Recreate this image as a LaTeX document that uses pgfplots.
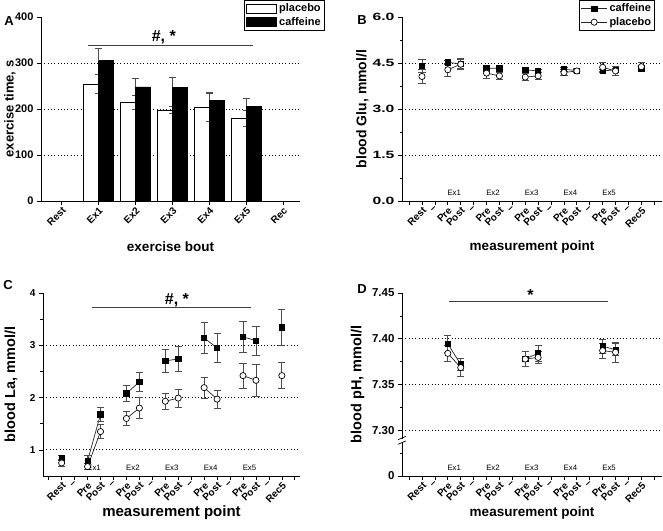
\documentclass[border=0pt]{standalone}
\usepackage{fontspec}
\setmainfont{Liberation Sans}
\newfontfamily\widesans[FakeStretch=1.5]{Liberation Sans}
\usepackage{pgfplots}
\usepackage{pgfplotstable}
\pgfplotsset{compat=1.18}

% exercise time per bout
\pgfplotstableread{
x  py  pe  cy  ce
1  254 21  305 27
2  215 15  248 19
3  198  8  247 21
4  203 31  219 17
5  180 18  206 18
}\timedata

% blood glucose
\pgfplotstableread{
x   cy    ce    py    pe
0   4.41  0.21  4.06  0.24
1   nan   0     nan   0
2   4.52  0.08  4.28  0.22
3   4.47  0.15  4.46  0.18
4   nan   0     nan   0
5   4.33  0.06  4.17  0.16
6   4.33  0.07  4.08  0.12
7   nan   0     nan   0
8   4.28  0.06  4.04  0.12
9   4.24  0.06  4.08  0.10
10  nan   0     nan   0
11  4.30  0.06  4.19  0.11
12  4.25  0.06  4.24  0.06
13  nan   0     nan   0
14  4.24  0.06  4.36  0.15
15  4.28  0.06  4.24  0.14
16  nan   0     nan   0
17  4.33  0.06  4.38  0.14
}\gludata

% blood lactate
\pgfplotstableread{
x   cy    ce    py    pe
0   0.84  0.05  0.75  0.07
1   nan   0     nan   0
2   0.79  0.10  0.68  0.06
3   1.68  0.13  1.35  0.13
4   nan   0     nan   0
5   2.08  0.16  1.60  0.14
6   2.30  0.19  1.80  0.20
7   nan   0     nan   0
8   2.70  0.22  1.93  0.15
9   2.74  0.24  1.99  0.17
10  nan   0     nan   0
11  3.14  0.30  2.19  0.20
12  2.95  0.27  1.97  0.17
13  nan   0     nan   0
14  3.16  0.30  2.42  0.24
15  3.09  0.28  2.33  0.30
16  nan   0     nan   0
17  3.34  0.35  2.42  0.25
}\ladata

% blood pH
\pgfplotstableread{
x   cy      ce      py      pe
2   7.3944  0.0093  7.3840  0.0090
3   7.3720  0.0070  7.3685  0.0095
4   nan     0       nan     0
8   7.3780  0.0080  7.3778  0.0082
9   7.3840  0.0086  7.3796  0.0066
10  nan     0       nan     0
14  7.3918  0.0075  7.3870  0.0080
15  7.3880  0.0064  7.3852  0.0110
}\phdata

\tikzset{
  exlab/.style={anchor=south, yshift=2pt, font=\fontsize{7.8}{9}\selectfont},
  sig/.style={line width=0.8pt, black!75},
  sigtxt/.style={font=\bfseries\fontsize{16}{18}\selectfont},
}

\pgfplotsset{
  panel/.style={
    scale only axis,
    axis x line*=bottom, axis y line*=left,
    axis line style={line width=0.8pt},
    tick align=outside,
    tick style={black, line width=0.7pt},
    major tick length=4pt, minor tick length=2.5pt,
    tick label style={font=\bfseries\fontsize{10.5}{12}\selectfont},
    x tick label style={rotate=45, anchor=north east, inner sep=1pt,
      font=\bfseries\fontsize{10}{12}\selectfont},
    /pgf/number format/assume math mode=true,
    clip=false,
    grid style={line width=0.8pt, dash pattern=on 1pt off 2.3pt, black},
    extra y tick style={grid=major},
    extra y tick labels={},
    error bars/error bar style={line width=0.8pt, black!70},
    error bars/error mark options={rotate=90, mark size=3.6pt, line width=0.8pt, black!70},
    every axis y label/.style={rotate=90, anchor=center,
      font=\bfseries\fontsize{14.5}{16}\selectfont},
    every axis x label/.style={anchor=center,
      font=\bfseries\fontsize{13.5}{16}\selectfont},
  },
  mp/.style={
    xmin=-1.55, xmax=18.6,
    xtick={-1,...,18},
    xticklabels={{},Rest,\textendash,Pre,Post,\textendash,Pre,Post,\textendash,Pre,Post,\textendash,Pre,Post,\textendash,Pre,Post,\textendash,Rec5,{}},
    xlabel={measurement point},
    minor y tick num=1,
    unbounded coords=jump,
  },
  caf/.style={black!85, line width=0.7pt, mark=square*, mark size=2.7pt,
    mark options={solid, black}, error bars/y dir=both, error bars/y explicit},
  pla/.style={black!85, line width=0.7pt, mark=*, mark size=3.1pt,
    mark options={solid, fill=white, draw=black}, error bars/y dir=both, error bars/y explicit},
}

\begin{document}
\begin{tikzpicture}
\useasboundingbox (0,0) rectangle (663pt,530pt);

% ---------- A ----------
\begin{axis}[panel,
  at={(41pt,329pt)}, anchor=south west, width=259pt, height=184pt,
  xmin=-0.56, xmax=6.46, ymin=0, ymax=400,
  xtick={0,...,6}, xticklabels={Rest,Ex1,Ex2,Ex3,Ex4,Ex5,Rec},
  ytick={0,100,200,300,400}, extra y ticks={100,200,300},
  y tick label style={font=\bfseries\fontsize{11}{12}\selectfont},
  xlabel={exercise bout}, ylabel={exercise time, s},
  xlabel style={at={(axis description cs:0.5,-0.25)}},
  ylabel style={at={(axis description cs:-0.12,0.5)}, font=\bfseries\fontsize{13}{15}\selectfont},
  legend style={at={(1.095,1.092)}, anchor=north east, draw=black, line width=0.8pt,
    font=\bfseries\fontsize{11}{13}\selectfont, inner sep=1.5pt, row sep=0pt,
    cells={anchor=west}},
  legend image code/.code={\draw[#1,/tikz/.cd,line width=0.8pt] (0pt,-4.5pt) rectangle (30pt,4.5pt);},
]
\addplot[ybar, bar width=15pt, bar shift=-7.5pt, fill=white, draw=black, line width=0.8pt,
  error bars/y dir=both, error bars/y explicit]
  table[x=x, y=py, y error=pe] {\timedata};
\addlegendentry{placebo}
\addplot[ybar, bar width=15pt, bar shift=7.5pt, fill=black, draw=black, line width=0.8pt,
  error bars/y dir=plus, error bars/y explicit]
  table[x=x, y=cy, y error=ce] {\timedata};
\addlegendentry{caffeine}
\draw[sig] (axis cs:0.72,339) -- (axis cs:5.18,339);
\node[sigtxt] at (axis cs:2.77,357) {\#, *};
\end{axis}

% ---------- B ----------
\begin{axis}[panel, mp,
  at={(402pt,329pt)}, anchor=south west, width=260pt, height=184pt,
  ymin=0, ymax=6,
  ytick={0,1.5,3,4.5,6}, yticklabels={0.0,1.5,3.0,4.5,6.0},
  y tick label style={font=\widesans\bfseries\fontsize{10.5}{12}\selectfont},
  extra y ticks={1.5,3,4.5},
  ylabel={blood Glu, mmol/l},
  xlabel style={at={(axis description cs:0.5,-0.25)}},
  ylabel style={at={(axis description cs:-0.152,0.5)}, font=\bfseries\fontsize{14}{16}\selectfont},
  legend style={at={(0.973,1.092)}, anchor=north east, draw=black, line width=0.8pt,
    font=\bfseries\fontsize{11}{13}\selectfont, inner sep=1.5pt, row sep=0pt,
    cells={anchor=west}},
  legend image code/.code={\draw[mark repeat=2,mark phase=2,#1] plot coordinates {(0pt,0pt) (13pt,0pt) (26pt,0pt)};},
]
\addplot[caf] table[x=x, y=cy, y error=ce] {\gludata};
\addlegendentry{caffeine}
\addplot[pla] table[x=x, y=py, y error=pe] {\gludata};
\addlegendentry{placebo}
\node[exlab] at (axis cs:2.5,0) {Ex1};
\node[exlab] at (axis cs:5.5,0) {Ex2};
\node[exlab] at (axis cs:8.5,0) {Ex3};
\node[exlab] at (axis cs:11.5,0) {Ex4};
\node[exlab] at (axis cs:14.5,0) {Ex5};
\end{axis}

% ---------- C ----------
\begin{axis}[panel, mp,
  at={(43pt,54pt)}, anchor=south west, width=257pt, height=183pt,
  xmin=-1.44, xmax=18.4,
  ymin=0.5, ymax=4,
  ytick={1,2,3,4}, extra y ticks={1,2,3},
  y tick label style={font=\bfseries\fontsize{10}{12}\selectfont},
  ylabel={blood La, mmol/l},
  xlabel style={at={(axis description cs:0.5,-0.20)}, font=\bfseries\fontsize{15}{17}\selectfont},
  ylabel style={at={(axis description cs:-0.125,0.5)}},
]
\addplot[caf] table[x=x, y=cy, y error=ce] {\ladata};
\addplot[pla] table[x=x, y=py, y error=pe] {\ladata};
\node[exlab] at (axis cs:2.5,0.5) {Ex1};
\node[exlab] at (axis cs:5.5,0.5) {Ex2};
\node[exlab] at (axis cs:8.5,0.5) {Ex3};
\node[exlab] at (axis cs:11.5,0.5) {Ex4};
\node[exlab] at (axis cs:14.5,0.5) {Ex5};
\draw[sig] (axis cs:2.34,3.72) -- (axis cs:14.6,3.72);
\node[sigtxt] at (axis cs:8.9,3.87) {\#, *};
\end{axis}

% ---------- D ----------
\begin{axis}[panel, mp,
  at={(402pt,54pt)}, anchor=south west, width=260pt, height=183pt,
  ymin=7.25, ymax=7.45,
  ytick={7.25,7.30,7.35,7.40,7.45}, yticklabels={0,7.30,7.35,7.40,7.45},
  y tick label style={font=\bfseries\fontsize{11.5}{12}\selectfont},
  extra y ticks={7.30,7.35,7.40},
  ylabel={blood pH, mmol/l},
  xlabel style={at={(axis description cs:0.5,-0.20)}},
  ylabel style={at={(axis description cs:-0.171,0.5)}},
]
\addplot[caf] table[x=x, y=cy, y error=ce] {\phdata};
\addplot[pla] table[x=x, y=py, y error=pe] {\phdata};
\node[exlab] at (axis cs:2.5,7.25) {Ex1};
\node[exlab] at (axis cs:5.5,7.25) {Ex2};
\node[exlab] at (axis cs:8.5,7.25) {Ex3};
\node[exlab] at (axis cs:11.5,7.25) {Ex4};
\node[exlab] at (axis cs:14.5,7.25) {Ex5};
\draw[sig] (axis cs:2.1,7.4405) -- (axis cs:14.4,7.4405);
\node[sigtxt] at (axis cs:8.4,7.4475) {*};
% axis break
\coordinate (brk) at (rel axis cs:0,0.195);
\fill[white] ([xshift=-2pt,yshift=-1.6pt]brk) rectangle ([xshift=2pt,yshift=1.6pt]brk);
\draw[line width=0.7pt] ([xshift=-4pt,yshift=-4pt]brk) -- ([xshift=4pt,yshift=-0.6pt]brk);
\draw[line width=0.7pt] ([xshift=-4pt,yshift=0.6pt]brk) -- ([xshift=4pt,yshift=4pt]brk);
\end{axis}

% panel letters
\node[font=\bfseries\fontsize{13}{15}\selectfont] at (9pt,509pt) {A};
\node[font=\bfseries\fontsize{13}{15}\selectfont] at (362pt,510pt) {B};
\node[font=\bfseries\fontsize{13}{15}\selectfont] at (8pt,245pt) {C};
\node[font=\bfseries\fontsize{13}{15}\selectfont] at (362pt,241pt) {D};
\end{tikzpicture}
\end{document}
